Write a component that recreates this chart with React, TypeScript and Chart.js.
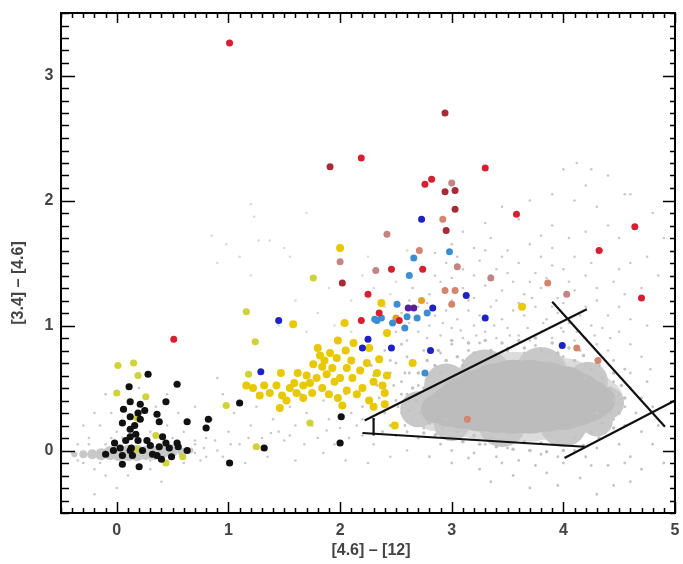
import React, { useEffect, useRef } from "react";
import { Chart, registerables } from "chart.js";

Chart.register(...registerables);

type P = [number, number];

const X_MIN = -0.5, X_MAX = 5, Y_MIN = -0.5, Y_MAX = 3.5;
const xTickLabels = ["0", "1", "2", "3", "4", "5"];
const yTickLabels = ["0", "1", "2", "3"];
const xTitle = "[4.6] \u2013 [12]";
const yTitle = "[3.4] \u2013 [4.6]";

// dense core of the grey cloud (centres along its long axis)
const coreCenters: P[] = [[2.85, 0.33], [2.97, 0.35], [3.1, 0.38], [3.25, 0.4], [3.4, 0.42], [3.55, 0.43], [3.7, 0.43], [3.85, 0.43], [4.0, 0.42], [4.12, 0.41], [4.24, 0.4], [4.34, 0.4]];
// slightly lighter, irregular fringe of the cloud
const fringeCenters: P[] = [[2.7, 0.33], [2.95, 0.52], [3.3, 0.6], [3.8, 0.62], [4.22, 0.55], [4.4, 0.38], [3.45, 0.22], [4.0, 0.22], [3.0, 0.22], [4.3, 0.24]];
// stellar locus band near zero
const locusCenters: P[] = [[-0.38, -0.03], [-0.3, -0.03], [-0.22, -0.03], [-0.14, -0.03], [-0.06, -0.02], [0.02, -0.02], [0.1, -0.02], [0.18, -0.02], [0.26, -0.02], [0.34, -0.02], [0.42, -0.01], [0.5, -0.01], [0.58, -0.01], [0.66, 0.0]];

const haloEdge: P[] = [[2.75, 0.5], [2.8, 0.6], [2.85, 0.68], [2.95, 0.72], [3.05, 0.75], [3.2, 0.78], [3.35, 0.8], [3.5, 0.8], [3.65, 0.82], [3.8, 0.8], [3.95, 0.78], [4.1, 0.72], [4.25, 0.65], [4.35, 0.58], [4.42, 0.5], [4.45, 0.4], [4.42, 0.3], [4.35, 0.22], [4.25, 0.15], [4.1, 0.1], [3.95, 0.07], [3.8, 0.06], [3.65, 0.07], [3.5, 0.08], [3.35, 0.1], [3.2, 0.12], [3.05, 0.15], [2.92, 0.18], [2.8, 0.22], [2.72, 0.3], [2.68, 0.4], [2.9, 0.62], [3.1, 0.68], [4.2, 0.58], [4.3, 0.3], [2.95, 0.25],
  [2.62, 0.32], [2.65, 0.5], [2.7, 0.62], [2.78, 0.72], [2.88, 0.8], [3.0, 0.88], [3.15, 0.86], [3.3, 0.88], [3.45, 0.86], [3.6, 0.88], [3.75, 0.9], [3.9, 0.86], [4.05, 0.82], [4.18, 0.76], [4.32, 0.68], [4.45, 0.62], [4.52, 0.52], [4.55, 0.42], [4.5, 0.3], [4.45, 0.18], [4.32, 0.1], [4.18, 0.04], [4.0, 0.0], [3.85, -0.01], [3.7, 0.0], [3.55, 0.01], [3.4, 0.03], [3.25, 0.05], [3.1, 0.07], [2.98, 0.1], [2.86, 0.13], [2.75, 0.14]];

const haloUpper: P[] = [[2.5, 0.95], [2.6, 0.88], [2.7, 0.95], [2.8, 1.0], [2.9, 0.92], [3.0, 0.98], [3.1, 0.9], [3.2, 1.0], [3.3, 0.95], [3.4, 0.9], [3.5, 0.98], [3.6, 0.92], [3.7, 0.88], [3.8, 0.95], [3.9, 0.9], [4.0, 0.95], [4.1, 0.88], [4.2, 0.9], [4.3, 0.85], [4.4, 0.8],
  [2.55, 1.1], [2.7, 1.15], [2.85, 1.08], [2.95, 1.12], [3.05, 1.05], [3.15, 1.12], [3.25, 1.08], [3.35, 1.15], [3.45, 1.05], [3.55, 1.12], [3.65, 1.08], [3.75, 1.15], [3.85, 1.05], [3.95, 1.1], [4.05, 1.02], [4.15, 1.08], [4.25, 1.0], [4.35, 0.98], [4.5, 0.95],
  [2.65, 1.3], [2.8, 1.25], [2.9, 1.35], [3.1, 1.3], [3.2, 1.22], [3.3, 1.32], [3.45, 1.28], [3.55, 1.35], [3.65, 1.25], [3.8, 1.3], [3.95, 1.22], [4.1, 1.28], [4.3, 1.2], [4.5, 1.15],
  [2.75, 1.45], [2.95, 1.5], [3.1, 1.45], [3.25, 1.52], [3.4, 1.45], [3.6, 1.5], [3.75, 1.42], [3.9, 1.48], [4.2, 1.4], [4.45, 1.35], [4.7, 1.3],
  [3.0, 1.65], [3.2, 1.62], [3.35, 1.7], [3.5, 1.6], [3.7, 1.65], [3.9, 1.62], [4.1, 1.55], [4.35, 1.6], [4.6, 1.5],
  [3.3, 1.82], [3.6, 1.85], [3.9, 1.8], [4.2, 1.75], [4.5, 1.7], [3.9, 2.05], [4.1, 2.0], [4.3, 1.95], [4.0, 2.25], [4.55, 2.05], [4.8, 1.9], [4.9, 1.7], [4.75, 1.55], [4.85, 1.4],
  [4.12, 2.3], [4.25, 2.25], [4.4, 2.2], [4.2, 2.12], [4.6, 2.05], [3.45, 1.95], [3.7, 2.0],
  [2.45, 1.02], [2.62, 1.02], [2.78, 0.9], [2.92, 1.02], [3.08, 0.96], [3.22, 0.92], [3.38, 1.0], [3.52, 0.92], [3.68, 0.98], [3.82, 1.02], [3.98, 0.98], [4.12, 0.95], [4.28, 0.92], [4.42, 0.9], [4.6, 0.85], [4.7, 0.75], [4.78, 0.65],
  [2.62, 1.2], [2.78, 1.18], [3.0, 1.2], [3.15, 1.2], [3.4, 1.2], [3.6, 1.18], [3.72, 1.22], [3.9, 1.15], [4.0, 1.18], [4.2, 1.15], [4.4, 1.08], [4.6, 1.05], [4.75, 1.0],
  [2.85, 1.4], [3.0, 1.38], [3.2, 1.4], [3.35, 1.4], [3.5, 1.42], [3.7, 1.35], [3.85, 1.38], [4.05, 1.35], [4.3, 1.3], [4.55, 1.25],
  [2.85, 1.58], [3.05, 1.55], [3.3, 1.6], [3.45, 1.55], [3.8, 1.55], [4.0, 1.45], [4.25, 1.5], [4.5, 1.45], [3.1, 1.75], [3.8, 1.72], [4.05, 1.7], [4.4, 1.8]];

const haloAround: P[] = [[2.6, 0.75], [2.75, 0.8], [2.9, 0.78], [3.0, 0.85], [3.15, 0.8], [3.25, 0.86], [3.35, 0.78], [3.5, 0.82], [3.65, 0.78], [3.75, 0.84], [3.85, 0.78], [4.0, 0.75], [4.15, 0.8], [4.3, 0.7], [4.45, 0.72], [4.55, 0.65], [3.1, 0.72], [3.4, 0.74], [3.95, 0.72], [4.2, 0.68], [2.5, 0.7], [2.4, 0.8], [2.55, 0.85],
  [2.3, 0.6], [2.4, 0.5], [2.45, 0.62], [2.5, 0.4], [2.55, 0.55], [2.6, 0.45], [2.62, 0.62], [2.7, 0.52], [2.7, 0.38], [2.75, 0.62], [2.55, 0.3], [2.65, 0.25], [2.4, 0.3], [2.35, 0.42], [2.45, 0.2], [2.6, 0.15], [2.75, 0.18], [2.85, 0.12], [2.3, 0.25], [2.2, 0.35], [2.2, 0.5],
  [2.48, 0.52], [2.52, 0.35], [2.58, 0.62], [2.66, 0.7], [2.58, 0.2], [2.7, 0.1], [2.5, 0.12], [2.38, 0.15], [2.33, 0.52], [2.45, 0.72], [2.28, 0.68], [2.62, 0.4], [2.55, 0.45],
  [4.45, 0.55], [4.5, 0.45], [4.55, 0.35], [4.6, 0.5], [4.65, 0.3], [4.7, 0.42], [4.45, 0.25], [4.55, 0.2], [4.75, 0.55], [4.8, 0.35], [4.85, 0.2], [4.6, 0.62], [4.7, 0.15],
  [2.9, 0.05], [3.0, 0.0], [3.1, 0.08], [3.2, -0.02], [3.3, 0.05], [3.4, -0.05], [3.5, 0.02], [3.6, -0.08], [3.7, 0.0], [3.8, -0.03], [3.9, 0.05], [4.0, -0.1], [4.1, 0.0], [4.2, -0.05], [4.3, 0.02], [4.4, -0.12], [4.5, 0.05], [4.6, -0.05], [3.25, -0.15], [3.55, -0.2], [3.85, -0.18], [4.15, -0.22], [4.45, -0.28], [3.0, -0.1], [2.8, -0.05], [3.7, -0.3], [4.3, -0.35], [4.7, -0.15], [4.9, -0.1],
  [3.15, -0.06], [3.45, -0.1], [3.75, -0.12], [3.95, -0.05], [4.25, -0.12], [4.55, -0.1], [3.35, -0.25], [3.95, -0.28], [4.6, -0.25], [4.8, 0.05]];

const haloBridge: P[] = [[0.7, 0.05], [0.8, 0.1], [0.9, 0.0], [1.0, 0.15], [1.1, 0.05], [1.2, 0.2], [1.3, 0.1], [1.4, 0.25], [1.5, 0.08], [1.6, 0.2], [1.7, 0.3], [1.8, 0.1], [1.9, 0.25], [2.0, 0.18], [2.1, 0.3], [2.2, 0.12], [0.85, 0.25], [1.05, 0.3], [1.25, 0.35], [1.45, 0.15], [1.55, 0.35], [1.75, 0.2], [1.95, 0.05], [2.15, 0.2], [2.3, 0.05], [0.75, -0.08], [0.95, -0.05], [1.15, -0.1], [1.35, -0.05], [1.6, -0.08], [1.85, -0.02], [2.05, -0.08], [2.25, -0.1], [2.45, -0.05], [2.6, 0.0], [1.65, 0.45], [1.85, 0.4], [2.05, 0.45], [1.3, 0.45], [0.95, 0.45], [0.7, 0.35], [0.6, 0.15], [0.65, 0.0], [0.55, 0.3], [0.9, 0.58],
  [0.78, 0.02], [0.88, 0.08], [1.02, 0.05], [1.18, 0.1], [1.38, 0.14], [1.55, 0.12], [1.68, 0.05], [1.88, 0.16], [2.08, 0.1], [2.2, 0.25]];

const haloLocus: P[] = [[-0.4, -0.02], [-0.35, 0.05], [-0.3, -0.1], [-0.25, 0.1], [-0.2, -0.15], [-0.15, 0.2], [-0.1, 0.05], [-0.05, 0.3], [0.0, 0.15], [-0.2, 0.3], [-0.3, 0.2], [0.3, 0.15], [0.35, 0.35], [0.45, 0.2], [0.5, 0.1], [0.6, -0.1], [0.3, -0.15], [0.1, -0.2], [-0.1, -0.2], [0.0, -0.3], [-0.2, -0.35], [0.4, -0.25], [0.6, -0.05], [0.7, -0.02], [0.8, -0.05], [0.45, 0.45], [0.2, 0.5], [-0.1, 0.45],
  [-0.25, 0.05], [-0.15, -0.1], [-0.05, 0.1], [0.05, 0.1], [0.3, -0.08], [0.5, 0.04], [0.7, 0.08], [-0.35, -0.08]];

const haloFaint: P[] = [[1.2, 1.97], [1.23, 1.87], [0.85, 1.72], [0.98, 1.65], [1.27, 1.68], [1.37, 1.68], [1.5, 1.62], [1.1, 1.55], [0.9, 1.5], [1.7, 1.9], [1.55, 1.55], [1.2, 1.4],
  [1.6, 1.2], [1.8, 1.1], [1.9, 1.3], [2.1, 1.2], [2.2, 1.4], [2.3, 1.3], [2.4, 1.15], [2.1, 0.95], [1.95, 1.0], [2.25, 1.55], [2.5, 1.35], [2.6, 1.6], [2.45, 1.25], [1.7, 0.95], [1.45, 1.0], [2.35, 1.05]];

const redPoints: P[] = [[1.01, 3.26], [2.19, 2.34], [3.30, 2.26], [2.82, 2.17], [2.76, 2.13], [3.58, 1.89], [4.64, 1.79], [4.32, 1.60], [2.46, 1.45], [2.74, 1.45], [2.25, 1.25], [2.35, 1.10], [2.19, 1.04], [2.53, 1.04], [4.70, 1.22], [0.51, 0.89]];
const darkRedPoints: P[] = [[1.91, 2.27], [2.94, 2.70], [2.94, 2.07], [3.03, 2.08], [3.03, 1.93], [2.95, 1.76], [2.02, 1.34]];
const salmonPoints: P[] = [[2.92, 1.85], [2.71, 1.60], [2.94, 1.28], [3.03, 1.28], [3.0, 1.17], [3.86, 1.34], [4.12, 0.82], [4.31, 0.72], [3.14, 0.25]];
const pinkPoints: P[] = [[3.0, 2.14], [2.42, 1.73], [2.0, 1.51], [2.32, 1.44], [3.05, 1.47], [3.35, 1.38], [4.03, 1.25]];
const bluePoints: P[] = [[2.73, 1.85], [1.45, 1.04], [1.29, 0.63], [3.13, 1.24], [2.83, 1.14], [3.30, 1.06], [2.25, 0.89], [2.2, 0.82], [2.46, 0.82], [2.81, 0.8], [3.99, 0.84]];
const lightBluePoints: P[] = [[2.98, 1.59], [2.66, 1.54], [2.62, 1.40], [2.51, 1.17], [2.78, 1.10], [2.33, 1.04], [2.37, 1.06], [2.60, 1.07], [2.69, 1.06], [2.47, 1.02], [2.58, 0.98], [2.31, 1.05], [2.76, 0.62]];
const purplePoints: P[] = [[2.61, 1.14], [2.66, 1.14]];
const orangePoints: P[] = [[2.73, 1.2], [2.5, 1.06]];
const yellowPoints: P[] = [[2.0, 1.62], [1.58, 1.01], [2.04, 1.02], [1.98, 0.88], [2.26, 0.82], [1.47, 0.62], [1.62, 0.62], [1.16, 0.52], [1.22, 0.5], [1.28, 0.44], [1.37, 0.46], [1.48, 0.44], [1.52, 0.40], [1.46, 0.34], [1.61, 0.46], [1.67, 0.52], [1.73, 0.54], [1.76, 0.69], [1.82, 0.76], [1.91, 0.78], [1.97, 0.74], [1.84, 0.67], [1.88, 0.61], [1.79, 0.58], [1.93, 0.66], [2.0, 0.58], [1.84, 0.5], [1.75, 0.46], [1.67, 0.42], [2.06, 0.66], [2.11, 0.58], [2.18, 0.64], [2.24, 0.7], [2.2, 0.5], [2.06, 0.48], [1.98, 0.42], [2.26, 0.4], [2.02, 0.36], [1.59, 0.54], [2.37, 1.18], [2.42, 0.94], [2.65, 0.70], [2.4, 0.46], [3.63, 1.15], [2.49, 0.2], [2.42, 0.6], [2.35, 0.73],
  [1.7, 0.6], [1.95, 0.55], [2.1, 0.72], [1.86, 0.72], [2.15, 0.45], [1.9, 0.45], [1.55, 0.5], [1.43, 0.52], [1.32, 0.52], [2.3, 0.55], [2.33, 0.62], [2.38, 0.52], [2.05, 0.8], [2.12, 0.86], [1.8, 0.82], [2.3, 0.35], [2.4, 0.37]];
const oliveYellowPoints: P[] = [[1.76, 1.38], [1.16, 1.11], [1.24, 0.87], [0.98, 0.36], [1.25, 0.03], [1.73, 0.22], [1.18, 0.61],
  [0.01, 0.68], [0.15, 0.7], [0.19, 0.6], [0.0, 0.46], [0.26, 0.43], [0.18, 0.26], [0.35, 0.12], [0.18, 0.01], [0.44, -0.1], [0.59, -0.05]];
const blackPoints: P[] = [[0.28, 0.61], [0.11, 0.51], [0.54, 0.53], [0.44, 0.39], [0.12, 0.39], [0.21, 0.37], [0.06, 0.33], [0.25, 0.32], [0.36, 0.29], [0.12, 0.27], [0.21, 0.25], [0.38, 0.23], [0.63, 0.23], [0.82, 0.25], [0.80, 0.18], [0.05, 0.22], [0.12, 0.17], [0.17, 0.13], [0.12, 0.11], [0.08, 0.08], [0.19, 0.08], [0.27, 0.08], [0.41, 0.11], [0.44, 0.06], [0.54, 0.06], [0.55, 0.03], [0.63, 0.0], [0.47, 0.02], [0.38, 0.03], [0.30, 0.04], [0.03, 0.02], [-0.03, 0.0], [0.12, 0.0], [0.23, 0.0], [-0.1, -0.03], [0.05, -0.04], [0.14, -0.04], [0.32, -0.03], [0.40, -0.07], [0.49, -0.05], [0.05, -0.11], [0.2, -0.13], [0.36, -0.04], [-0.02, 0.06], [0.16, 0.2], [0.19, 0.30], [0.13, 0.02],
  [1.1, 0.38], [1.01, -0.1], [1.32, 0.02], [2.01, 0.27], [2.0, 0.06]];

const lineUpper: P[] = [[2.22, 0.24], [4.21, 1.13]];
const lineLower: P[] = [[2.2, 0.14], [4.19, 0.03]];
const lineBracket: P[] = [[2.3, 0.26], [2.3, 0.12]];
const lineRight: P[] = [[3.9, 1.19], [4.91, 0.19]];
const lineBottom: P[] = [[4.01, -0.06], [5.0, 0.40]];

const toXY = (a: P[]) => a.map(([x, y]) => ({ x, y }));

const framePlugin = {
  id: "frame",
  afterDatasetsDraw(chart: any) {
    const { ctx, chartArea, scales } = chart;
    const { left, right, top, bottom } = chartArea;
    const xs = scales.x, ys = scales.y;
    ctx.save();
    ctx.strokeStyle = "#000";
    ctx.lineWidth = 2;
    ctx.strokeRect(left, top, right - left, bottom - top);
    ctx.lineWidth = 1.5;
    ctx.beginPath();
    for (let i = Math.round(X_MIN * 10); i <= Math.round(X_MAX * 10); i++) {
      const px = Math.round(xs.getPixelForValue(i / 10)) + 0.5;
      const major = i % 10 === 0;
      ctx.moveTo(px, bottom); ctx.lineTo(px, bottom - (major ? 11 : 5));
      ctx.moveTo(px, top); ctx.lineTo(px, top + (major ? 10 : 5));
    }
    for (let i = Math.round(Y_MIN * 10); i <= Math.round(Y_MAX * 10); i++) {
      const py = Math.round(ys.getPixelForValue(i / 10)) + 0.5;
      const major = i % 10 === 0;
      ctx.moveTo(left, py); ctx.lineTo(left + (major ? 14 : 8), py);
      ctx.moveTo(right, py); ctx.lineTo(right - (major ? 12 : 5), py);
    }
    ctx.stroke();
    ctx.fillStyle = "#444";
    ctx.font = 'bold 16px "Liberation Sans", Arial, sans-serif';
    ctx.textAlign = "center";
    ctx.textBaseline = "middle";
    xTickLabels.forEach((t) => ctx.fillText(t, xs.getPixelForValue(Number(t)), bottom + 18));
    yTickLabels.forEach((t) => ctx.fillText(t, left - 12, ys.getPixelForValue(Number(t))));
    ctx.fillText(xTitle, (left + right) / 2 + 3, bottom + 38);
    ctx.translate(19, 283);
    ctx.rotate(-Math.PI / 2);
    ctx.fillText(yTitle, 0, 0);
    ctx.restore();
  },
};

export default function App() {
  const ref = useRef<HTMLCanvasElement>(null);
  useEffect(() => {
    if (!ref.current) return;
    const pts = (data: P[], color: string, r: number, order: number) => ({
      type: "scatter" as const, data: toXY(data), backgroundColor: color, borderColor: color,
      borderWidth: 0, pointRadius: r, pointHoverRadius: r, order,
    });
    const line = (data: P[]) => ({
      type: "scatter" as const, data: toXY(data), showLine: true, borderColor: "#111", backgroundColor: "#111",
      borderWidth: 2.2, pointRadius: 0, order: 0,
    });
    const coreRadii = [14, 20, 26, 31, 35, 37, 37, 35, 32, 27, 21, 14];
    const ringRadii = coreRadii.map((r) => r + 8);
    const fringeRadii = [18, 22, 26, 26, 20, 16, 24, 24, 18, 16];
    const locusRadii = [3, 4, 5, 6, 7, 8, 8, 8, 7, 7, 6, 5, 4, 3];
    const chart = new Chart(ref.current, {
      type: "scatter",
      data: {
        datasets: [
          line(lineUpper), line(lineLower), line(lineBracket), line(lineRight), line(lineBottom),
          pts(redPoints, "#d42030", 3.5, 1),
          pts(darkRedPoints, "#a82a34", 3.5, 1),
          pts(salmonPoints, "#d4856e", 3.5, 1),
          pts(pinkPoints, "#c48484", 3.5, 1),
          pts(bluePoints, "#1c22c4", 3.5, 1),
          pts(lightBluePoints, "#3c8ed2", 3.5, 1),
          pts(purplePoints, "#5a1e9c", 3.5, 1),
          pts(orangePoints, "#e0a028", 3.5, 1),
          pts(blackPoints, "#111111", 3.6, 2),
          pts(oliveYellowPoints, "#cfd23a", 3.6, 3),
          pts(yellowPoints, "#e8c800", 4, 3),
          pts(haloEdge, "#c2c2c2", 1.8, 5),
          pts(haloUpper, "#c8c8c8", 1.3, 5),
          pts(haloAround, "#c4c4c4", 1.4, 5),
          pts(haloBridge, "#c8c8c8", 1.3, 5),
          pts(haloLocus, "#c8c8c8", 1.3, 5),
          pts(haloFaint, "#dadada", 1.3, 5),
          { ...pts(locusCenters, "#c8c8c8", 6, 6), pointRadius: locusRadii },
          { ...pts(coreCenters, "#bcbcbc", 30, 7), pointRadius: coreRadii },
          { ...pts(fringeCenters, "#c8c8c8", 20, 8), pointRadius: fringeRadii },
          { ...pts(coreCenters, "#dcdcdc", 30, 9), pointRadius: ringRadii },
        ] as any,
      },
      options: {
        responsive: false,
        animation: false,
        events: [],
        layout: { autoPadding: false, padding: { left: 61, top: 13, right: 8, bottom: 51 } },
        plugins: { legend: { display: false }, tooltip: { enabled: false } },
        scales: {
          x: { type: "linear", min: X_MIN, max: X_MAX, display: false },
          y: { type: "linear", min: Y_MIN, max: Y_MAX, display: false },
        },
      },
      plugins: [framePlugin],
    });
    return () => chart.destroy();
  }, []);
  return (
    <div style={{ position: "fixed", left: 0, top: 0, width: 683, height: 564, background: "#fff" }}>
      <canvas ref={ref} width={683} height={564} style={{ width: 683, height: 564, display: "block" }} />
    </div>
  );
}
